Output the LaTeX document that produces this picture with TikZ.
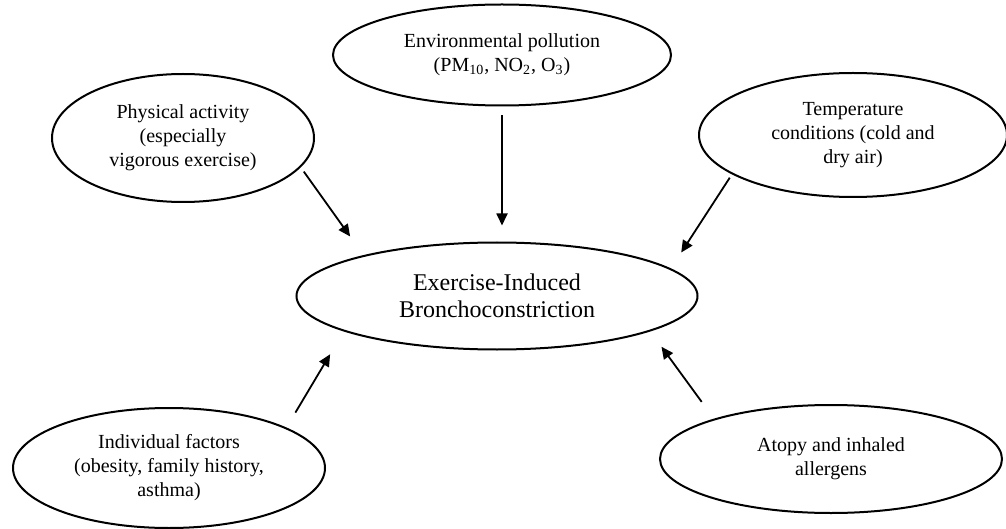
\documentclass[tikz,border=0pt]{standalone}
\usepackage{fontspec}
\setmainfont{Liberation Serif}
\usetikzlibrary{arrows.meta,shapes.geometric}

\begin{document}
\begin{tikzpicture}[x=0.5pt,y=-0.5pt,
    every node/.style={font=\fontsize{10}{12}\selectfont},
    factor/.style={draw,ellipse,line width=1pt,inner sep=0pt,align=center},
    arr/.style={-{Triangle[length=6pt,width=5.5pt]},line width=0.9pt}]
  \useasboundingbox (0,0) rectangle (1006,529);

  %% Central outcome node
  \node[factor,minimum width=200.5pt,minimum height=53.5pt,
        font=\fontsize{12}{13.5}\selectfont] (ebc) at (497,296)
        {Exercise-Induced\\Bronchoconstriction};

  %% Contributing factors
  \node[factor,minimum width=169pt,minimum height=50.5pt]
        (env) at (502,55) {Environmental pollution\\(PM\textsubscript{10}, NO\textsubscript{2}, O\textsubscript{3})};
  \node[factor,minimum width=131pt,minimum height=64pt]
        (phys) at (183,138) {Physical activity\\(especially\\vigorous exercise)};
  \node[factor,minimum width=154pt,minimum height=62pt]
        (temp) at (853,135) {Temperature\\conditions (cold and\\dry air)};
  \node[factor,minimum width=156pt,minimum height=60pt]
        (ind) at (169,468) {Individual factors\\(obesity, family history,\\asthma)};
  \node[factor,minimum width=171pt,minimum height=54pt]
        (atopy) at (831,459) {Atopy and inhaled\\allergens};

  \draw[arr,shorten <=2.6pt,shorten >=11.5pt] (phys.-14.5) -- (ebc.163);
  \draw[arr,shorten <=4.5pt,shorten >=8pt] (env.south) -- (env.south |- ebc.north);
  \draw[arr,shorten <=2pt,shorten >=9.5pt] (temp.-162.3) -- (ebc.9.4);
  \draw[arr,shorten <=8.7pt,shorten >=13.3pt] (ind.19.9) -- (ebc.-167.2);
  \draw[arr,shorten <=10.4pt,shorten >=9.5pt] (atopy.161) -- (ebc.-13.7);
\end{tikzpicture}
\end{document}
